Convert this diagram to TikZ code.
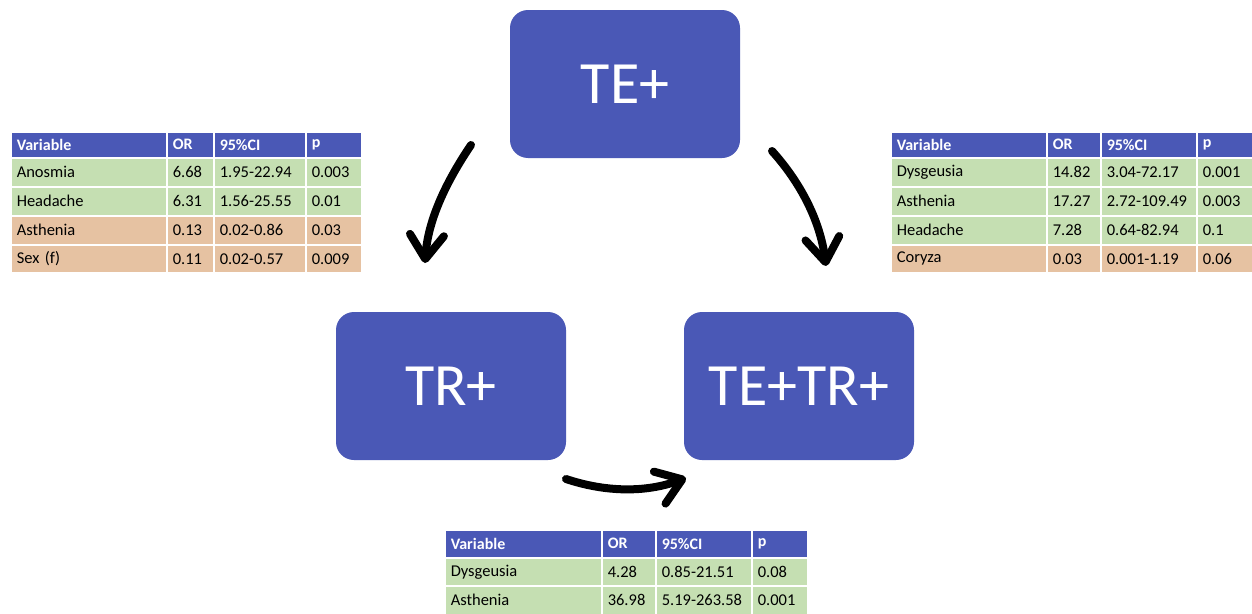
\documentclass[tikz,border=0pt]{standalone}
\usepackage{fontspec}
\setmainfont{Carlito}
\usetikzlibrary{arrows.meta}
\definecolor{boxblue}{HTML}{4A58B6}
\definecolor{rowgreen}{HTML}{C5DFB2}
\definecolor{rowtan}{HTML}{E6C2A2}
\tikzset{
  bigbox/.style={fill=boxblue, rounded corners=18pt, minimum width=230pt, minimum height=148pt, text=white, font=\fontsize{60}{60}\selectfont, inner sep=0pt},
  cell/.style={anchor=north west, inner xsep=6pt, inner ysep=0pt, align=left, draw=white, line width=1.5pt, font=\fontsize{16.5}{18}\selectfont},
  hdr/.style={fill=boxblue, text=white, font=\fontsize{16}{18}\selectfont\bfseries},
  grn/.style={fill=rowgreen, text=black},
  tan/.style={fill=rowtan, text=black},
  bigarrow/.style={line width=8pt, line cap=round, -{Straight Barb[length=24pt,width=34pt,line cap=round,line join=round]}}
}
\newcommand{\setcols}[5]{\def\xA{#1}\def\xB{#2}\def\xC{#3}\def\xD{#4}\def\xE{#5}%
  \pgfmathsetmacro\wA{\xB-\xA-12}\pgfmathsetmacro\wB{\xC-\xB-12}%
  \pgfmathsetmacro\wC{\xD-\xC-12}\pgfmathsetmacro\wD{\xE-\xD-12}}
\newcommand{\trow}[8]{%
  \node[cell,#4,text width=\wA pt,minimum height=#3pt] (#1a) at (\xA,#2) {#5};
  \node[cell,#4,text width=\wB pt,minimum height=#3pt] (#1b) at (\xB,#2) {#6};
  \node[cell,#4,text width=\wC pt,minimum height=#3pt] (#1c) at (\xC,#2) {#7};
  \node[cell,#4,text width=\wD pt,minimum height=#3pt] (#1d) at (\xD,#2) {#8};}
\begin{document}
\begin{tikzpicture}[x=1pt,y=-1pt]
\useasboundingbox (0,0) rectangle (1252,613);
\fill[white] (0,0) rectangle (1252,613);
% main boxes
\node[bigbox] (te) at (625,84) {TE+};
\node[bigbox] (tr) at (451,386) {TR+};
\node[bigbox] (tetr) at (799,386) {TE+TR+};
% left table
\setcols{10}{166}{213}{305}{361}
\trow{Lh}{131}{26}{hdr}{Variable}{OR}{95\%CI}{p}
\trow{La}{157}{29}{grn}{Anosmia}{6.68}{1.95-22.94}{0.003}
\trow{Lb}{186}{29}{grn}{Headache}{6.31}{1.56-25.55}{0.01}
\trow{Lc}{215}{29}{tan}{Asthenia}{0.13}{0.02-0.86}{0.03}
\trow{Ld}{244}{28}{tan}{Sex (f)}{0.11}{0.02-0.57}{0.009}
% right table
\setcols{890}{1046}{1100}{1196}{1253}
\trow{Rh}{131}{26}{hdr}{Variable}{OR}{95\%CI}{p}
\trow{Ra}{157}{29}{grn}{Dysgeusia}{14.82}{3.04-72.17}{0.001}
\trow{Rb}{186}{29}{grn}{Asthenia}{17.27}{2.72-109.49}{0.003}
\trow{Rc}{215}{29}{grn}{Headache}{7.28}{0.64-82.94}{0.1}
\trow{Rd}{244}{28}{tan}{Coryza}{0.03}{0.001-1.19}{0.06}
% bottom table
\setcols{444}{601}{655}{751}{807}
\trow{Bh}{529}{28}{hdr}{Variable}{OR}{95\%CI}{p}
\trow{Ba}{557}{28}{grn}{Dysgeusia}{4.28}{0.85-21.51}{0.08}
\trow{Bb}{585}{29}{grn}{Asthenia}{36.98}{5.19-263.58}{0.001}
% arrows
\coordinate (a1s) at (471,145);
\coordinate (a1e) at (425,263);
\coordinate (a2s) at (772,151);
\coordinate (a2e) at (826,266);
\coordinate (a3s) at (566,479);
\coordinate (a3e) at (686,478);
\draw[bigarrow] (a1s) .. controls (446,182) and (428,220) .. (a1e);
\draw[bigarrow] (a2s) .. controls (800,182) and (820,220) .. (a2e);
\draw[bigarrow] (a3s) .. controls (605,492) and (645,493) .. (a3e);
\end{tikzpicture}
\end{document}
